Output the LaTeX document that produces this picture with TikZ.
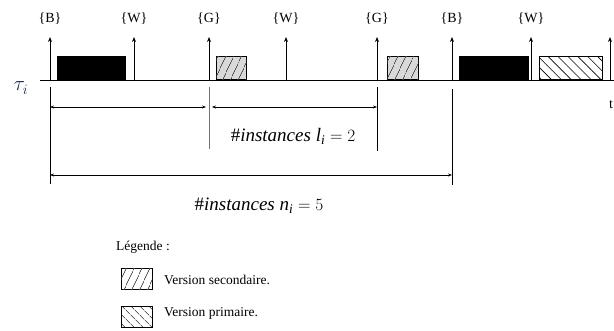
\documentclass[tikz,border=0pt]{standalone}
\usepackage{fontspec}
\setmainfont{Liberation Serif}
\usetikzlibrary{patterns.meta,arrows.meta}
\definecolor{navy}{RGB}{25,35,70}
\begin{document}
\begin{tikzpicture}[x=1pt,y=-1pt,
  tickarrow/.style={-{Stealth[length=5pt,width=4pt]}, line width=0.9pt},
  evlabel/.style={font=\fontsize{14}{15}\selectfont, inner sep=0pt},
  jobbox/.style={draw, line width=0.9pt, inner sep=0pt, anchor=south west, minimum height=23pt},
  blackjob/.style={jobbox, fill=black},
  secjob/.style={jobbox, fill=black!15, postaction={pattern={Lines[angle=65,distance=6.5pt,line width=0.6pt]}}},
  primjob/.style={jobbox, fill=white, postaction={pattern={Lines[angle=-45,distance=7pt,line width=0.6pt]}}},
  span/.style={{Stealth[length=4pt,width=3pt]}-{Stealth[length=4pt,width=3pt]}, line width=0.8pt},
  bound/.style={line width=0.9pt},
  formula/.style={font=\fontsize{19}{20}\selectfont, inner sep=0pt},
  legtext/.style={font=\fontsize{13.5}{15}\selectfont, inner sep=0pt, anchor=west}
]
\useasboundingbox (0,0) rectangle (614,330);
% axis
\coordinate (ax0) at (40,80);
\coordinate (ax1) at (614,80);
\draw[line width=0.9pt] (ax0) -- (ax1);
\node[font=\fontsize{21}{22}\selectfont, inner sep=0pt, text=navy] (tau) at (21,88) {$\tau_i$};
\node[font=\fontsize{14}{15}\selectfont, inner sep=0pt, anchor=west] (t) at (609,105) {t};
% event arrows
\foreach \n/\x in {b1/50, w1/134, g1/209, w2/286, g2/377, b2/452, w3/531, e4/610} {
  \coordinate (\n0) at (\x,80);
  \coordinate (\n1) at (\x,37);
  \draw[tickarrow] (\n0) -- (\n1);
}
\node[evlabel] (lb1) at (50,19) {\{B\}};
\node[evlabel] (lw1) at (134,19) {\{W\}};
\node[evlabel] (lg1) at (209,19) {\{G\}};
\node[evlabel] (lw2) at (286,19) {\{W\}};
\node[evlabel] (lg2) at (377,19) {\{G\}};
\node[evlabel] (lb2) at (452,19) {\{B\}};
\node[evlabel] (lw3) at (531,19) {\{W\}};
% jobs
\node[blackjob, minimum width=68pt] (j1) at (57,80) {};
\node[secjob, minimum width=30pt] (j2) at (216,80) {};
\node[secjob, minimum width=31pt] (j3) at (387,80) {};
\node[blackjob, minimum width=69pt] (j4) at (459,80) {};
\node[primjob, minimum width=63pt] (j5) at (539,80) {};
% bounds below the axis
\coordinate (v1a) at (50,87);  \coordinate (v1b) at (50,184);
\coordinate (v2a) at (209,87); \coordinate (v2b) at (209,149);
\coordinate (v3a) at (377,87); \coordinate (v3b) at (377,151);
\coordinate (v4a) at (452,89); \coordinate (v4b) at (452,185);
\draw[bound] (v1a) -- (v1b);
\draw[bound, black!55] (v2a) -- (v2b);
\draw[bound] (v3a) -- (v3b);
\draw[bound] (v4a) -- (v4b);
% spans
\coordinate (s1a) at (50,107);  \coordinate (s1b) at (206,107);
\coordinate (s2a) at (212,107); \coordinate (s2b) at (377,107);
\coordinate (s3a) at (50,175);  \coordinate (s3b) at (452,175);
\draw[span] (s1a) -- (s1b);
\draw[span] (s2a) -- (s2b);
\draw[span] (s3a) -- (s3b);
\node[formula] (fl) at (293,136) {$\#\mathit{instances}\;\mathit{l}_{\mathit{i}} = 2$};
\node[formula] (fn) at (259,206) {$\#\mathit{instances}\;\mathit{n}_{\mathit{i}} = 5$};
% legend
\node[legtext] (leg) at (116,247) {Légende :};
\node[jobbox, anchor=north west, fill=white, postaction={pattern={Lines[angle=65,distance=6.5pt,line width=0.6pt]}}, minimum width=31pt, minimum height=21pt] (k1) at (121,268) {};
\node[legtext] (k1t) at (164,280) {Version secondaire.};
\node[jobbox, anchor=north west, fill=white, postaction={pattern={Lines[angle=-45,distance=6.5pt,line width=0.6pt]}}, minimum width=31pt, minimum height=21pt] (k2) at (121,306) {};
\node[legtext] (k2t) at (164,313) {Version primaire.};
\end{tikzpicture}
\end{document}
